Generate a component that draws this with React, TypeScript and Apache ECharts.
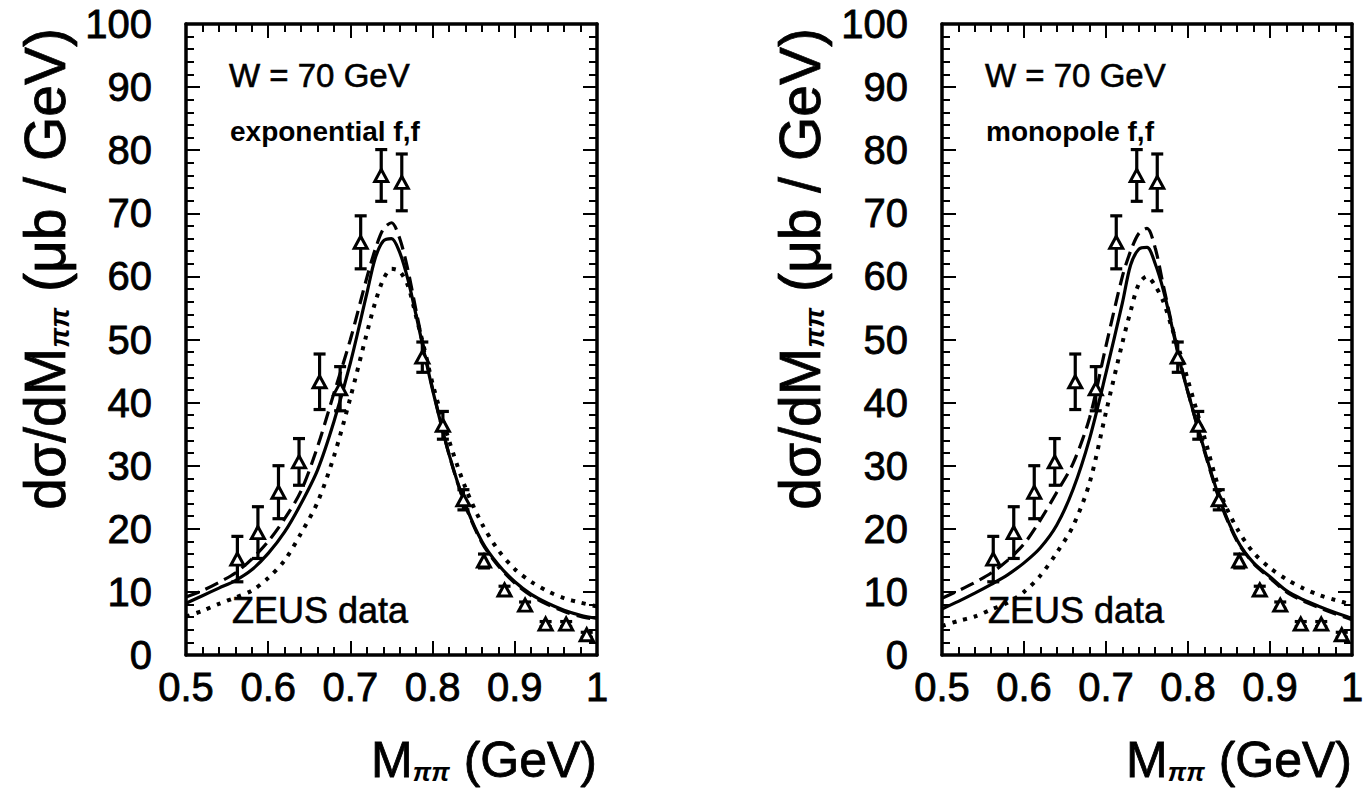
import React, { useEffect, useRef } from "react";
import * as echarts from "echarts";

// ZEUS data, W = 70 GeV
const massBins = [0.5625, 0.5875, 0.6125, 0.6375, 0.6625, 0.6875, 0.7125, 0.7375, 0.7625, 0.7875, 0.8125, 0.8375, 0.8625, 0.8875, 0.9125, 0.9375, 0.9625, 0.9875];
const zeusValues = [15.2, 19.4, 25.8, 30.6, 43.3, 42.2, 65.4, 76.0, 74.9, 47.2, 36.4, 24.6, 14.9, 10.3, 7.9, 4.9, 4.9, 3.2];
const zeusErrors = [3.6, 4.1, 4.2, 3.7, 4.4, 3.5, 4.2, 4.1, 4.5, 2.4, 2.2, 1.6, 1.1, 0.6, 0.5, 0.4, 0.4, 0.4];

// model curves sampled in M_pipi (GeV)
const curveMass = [0.50, 0.52, 0.54, 0.56, 0.58, 0.60, 0.62, 0.64, 0.66, 0.68, 0.70, 0.72, 0.73, 0.74, 0.75, 0.76, 0.77, 0.78, 0.79, 0.80, 0.82, 0.84, 0.86, 0.88, 0.90, 0.92, 0.94, 0.96, 0.98, 1.00];

// exponential form factor panel
const expSolid = [8.2, 9.4, 10.6, 11.8, 13.5, 16.1, 19.5, 24.0, 29.3, 37.0, 46.3, 57.3, 62.8, 65.6, 66.0, 63.8, 59.5, 53.8, 47.8, 42.0, 31.8, 23.8, 18.0, 14.3, 11.6, 9.6, 8.2, 7.1, 6.3, 5.8];
const expDashed = [9.2, 10.2, 11.5, 13.0, 15.2, 18.0, 21.6, 26.0, 33.0, 41.5, 50.0, 59.8, 64.2, 67.5, 68.5, 66.0, 61.0, 54.5, 48.2, 42.2, 31.8, 23.6, 17.8, 14.1, 11.4, 9.4, 8.0, 6.9, 6.1, 5.6];
const expDotted = [6.1, 7.0, 8.1, 9.1, 10.2, 12.2, 15.0, 19.3, 24.2, 31.5, 40.8, 51.0, 55.8, 59.5, 61.2, 60.8, 58.5, 53.6, 48.5, 43.0, 34.0, 26.5, 20.8, 16.6, 13.6, 11.6, 10.1, 9.0, 8.3, 7.7];

// monopole form factor panel
const monoSolid = [7.3, 8.5, 9.8, 11.2, 12.7, 14.6, 17.0, 20.6, 26.3, 34.3, 44.7, 55.8, 61.8, 64.3, 64.6, 62.0, 57.8, 52.3, 46.5, 41.6, 32.5, 24.2, 18.2, 14.6, 12.4, 10.2, 8.8, 7.7, 6.7, 5.8];
const monoDashed = [9.0, 10.2, 11.5, 13.0, 15.0, 17.6, 21.4, 25.8, 30.4, 37.6, 49.0, 60.0, 64.0, 66.8, 67.6, 64.5, 58.5, 52.6, 46.8, 41.6, 32.3, 24.0, 18.0, 14.5, 12.2, 10.0, 8.6, 7.5, 6.5, 5.6];
const monoDotted = [4.6, 5.4, 6.1, 7.2, 8.3, 10.0, 12.6, 16.2, 20.5, 27.3, 38.5, 49.5, 54.5, 58.8, 60.0, 58.5, 56.0, 52.0, 48.0, 43.5, 34.5, 25.5, 20.0, 16.2, 13.8, 12.0, 10.6, 9.5, 8.7, 8.0];

const panelLabels = ["exponential f,f", "monopole f,f"];
const energyLabel = "W = 70 GeV";
const dataLabel = "ZEUS data";

const FONT = "'Liberation Sans', Arial, sans-serif";

const pairs = (xs: number[], ys: number[]) => xs.map((x, i) => [x, ys[i]]);

const GRIDS = [
  { left: 186, top: 24, width: 411, height: 631 },
  { left: 942, top: 24, width: 410, height: 631 },
];

function xAxis(gridIndex: number, position: string, showLabel: boolean) {
  return {
    type: "value",
    gridIndex,
    position,
    min: 0.5,
    max: 1,
    interval: 0.1,
    axisLine: { show: true, onZero: false, lineStyle: { color: "#000", width: 3.5 } },
    axisTick: { show: true, inside: true, length: 14, lineStyle: { color: "#000", width: 2 } },
    minorTick: { show: true, splitNumber: 5, length: 8, lineStyle: { color: "#000", width: 2 } },
    splitLine: { show: false },
    minorSplitLine: { show: false },
    axisLabel: showLabel
      ? {
          show: true,
          margin: 12,
          fontSize: 40,
          color: "#000",
          fontFamily: FONT,
          textBorderColor: "#000",
          textBorderWidth: 0.8,
          formatter: (v: number) => String(Math.round(v * 10) / 10),
        }
      : { show: false },
  };
}

function yAxis(gridIndex: number, position: string, showLabel: boolean) {
  return {
    type: "value",
    gridIndex,
    position,
    min: 0,
    max: 100,
    interval: 10,
    axisLine: { show: true, onZero: false, lineStyle: { color: "#000", width: 3.5 } },
    axisTick: { show: true, inside: true, length: 14, lineStyle: { color: "#000", width: 2 } },
    minorTick: { show: true, splitNumber: 5, length: 8, lineStyle: { color: "#000", width: 2 } },
    splitLine: { show: false },
    minorSplitLine: { show: false },
    axisLabel: showLabel
      ? {
          show: true,
          margin: 34,
          fontSize: 40,
          color: "#000",
          fontFamily: FONT,
          textBorderColor: "#000",
          textBorderWidth: 0.8,
        }
      : { show: false },
  };
}

function panelSeries(p: number, solid: number[], dashed: number[], dotted: number[]) {
  const xAxisIndex = p * 2;
  const yAxisIndex = p * 2;
  const base = { type: "line", xAxisIndex, yAxisIndex, showSymbol: false, smooth: 0.3, silent: true };
  return [
    { ...base, name: "dotted" + p, data: pairs(curveMass, dotted), lineStyle: { color: "#000", width: 4, type: [4, 7], cap: "butt" }, z: 2 },
    { ...base, name: "dashed" + p, data: pairs(curveMass, dashed), lineStyle: { color: "#000", width: 3.2, type: [14, 7] }, z: 3 },
    { ...base, name: "solid" + p, data: pairs(curveMass, solid), lineStyle: { color: "#000", width: 3.2 }, z: 4 },
    {
      type: "custom",
      xAxisIndex,
      yAxisIndex,
      z: 5,
      silent: true,
      data: massBins.map((m, i) => [m, zeusValues[i], zeusErrors[i]]),
      encode: { x: 0, y: 1 },
      renderItem: (params: any, api: any) => {
        const x = api.value(0);
        const y = api.value(1);
        const e = api.value(2);
        const top = api.coord([x, y + e]);
        const bot = api.coord([x, y - e]);
        const cap = 6;
        const st = { stroke: "#000", lineWidth: 3.2 };
        return {
          type: "group",
          children: [
            { type: "line", shape: { x1: top[0], y1: top[1], x2: bot[0], y2: bot[1] }, style: st },
            { type: "line", shape: { x1: top[0] - cap, y1: top[1], x2: top[0] + cap, y2: top[1] }, style: st },
            { type: "line", shape: { x1: bot[0] - cap, y1: bot[1], x2: bot[0] + cap, y2: bot[1] }, style: st },
          ],
        };
      },
    },
    {
      type: "scatter",
      xAxisIndex,
      yAxisIndex,
      z: 6,
      silent: true,
      symbol: "triangle",
      symbolSize: [13, 12],
      itemStyle: { color: "#fff", borderColor: "#000", borderWidth: 3, opacity: 1 },
      data: pairs(massBins, zeusValues),
    },
  ];
}

function panelGraphics(p: number) {
  const g = GRIDS[p];
  const right = g.left + g.width;
  const yTitleX = p === 0 ? 43 : 798;
  return [
    {
      type: "text",
      x: g.left + 43,
      y: 75,
      style: { text: energyLabel, font: `33px ${FONT}`, fill: "#000", textAlign: "left", textVerticalAlign: "middle", stroke: "#000", lineWidth: 0.6 },
    },
    {
      type: "text",
      x: g.left + 44,
      y: 131,
      style: { text: panelLabels[p], font: `bold 28px ${FONT}`, fill: "#000", textAlign: "left", textVerticalAlign: "middle" },
    },
    {
      type: "text",
      x: g.left + 46,
      y: 610,
      style: { text: dataLabel, font: `36px ${FONT}`, fill: "#000", textAlign: "left", textVerticalAlign: "middle", stroke: "#000", lineWidth: 0.6 },
    },
    {
      type: "text",
      x: right,
      y: 760,
      style: {
        text: "{n|M}{s|ππ}{n| (GeV)}",
        textAlign: "right",
        textVerticalAlign: "middle",
        rich: {
          n: { fontSize: 50, fontFamily: FONT, fill: "#000", stroke: "#000", lineWidth: 0.8, verticalAlign: "bottom", lineHeight: 50 },
          s: { fontSize: 26, fontFamily: FONT, fontWeight: "bold", fontStyle: "italic", fill: "#000", verticalAlign: "bottom", lineHeight: 34 },
        },
      },
    },
    {
      type: "text",
      x: yTitleX,
      y: 28,
      rotation: Math.PI / 2,
      style: {
        text: "{n|dσ/dM}{s|ππ}{n| (μb / GeV)}",
        textAlign: "right",
        textVerticalAlign: "middle",
        rich: {
          n: { fontSize: 57, fontFamily: FONT, fill: "#000", stroke: "#000", lineWidth: 0.8, verticalAlign: "bottom", lineHeight: 60 },
          s: { fontSize: 28, fontFamily: FONT, fontWeight: "bold", fontStyle: "italic", fill: "#000", verticalAlign: "bottom", lineHeight: 44 },
        },
      },
    },
  ];
}

export default function App() {
  const ref = useRef<HTMLDivElement>(null);
  useEffect(() => {
    if (!ref.current) return;
    const chart = echarts.init(ref.current, undefined, { renderer: "svg" });
    chart.setOption({
      animation: false,
      backgroundColor: "#fff",
      textStyle: { fontFamily: FONT },
      grid: GRIDS.map((g) => ({ ...g, containLabel: false })),
      xAxis: [xAxis(0, "bottom", true), xAxis(0, "top", false), xAxis(1, "bottom", true), xAxis(1, "top", false)],
      yAxis: [yAxis(0, "left", true), yAxis(0, "right", false), yAxis(1, "left", true), yAxis(1, "right", false)],
      series: [
        ...panelSeries(0, expSolid, expDashed, expDotted),
        ...panelSeries(1, monoSolid, monoDashed, monoDotted),
      ],
      graphic: [...panelGraphics(0), ...panelGraphics(1)],
    });
    return () => chart.dispose();
  }, []);
  return <div ref={ref} style={{ position: "absolute", left: 0, top: 0, width: 1371, height: 789 }} />;
}
